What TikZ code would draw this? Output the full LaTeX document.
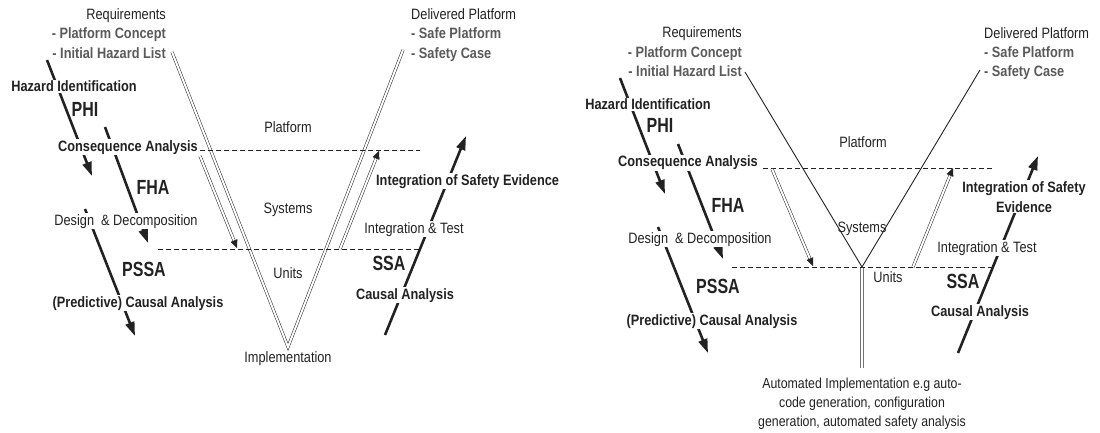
\documentclass[tikz,border=0pt]{standalone}
\usepackage{fontspec}
\setmainfont{Liberation Sans}[FakeStretch=0.85]
\newfontfamily\bigfont{Liberation Sans}[FakeStretch=0.78]
\usetikzlibrary{arrows.meta}
\definecolor{ink}{HTML}{222222}
\definecolor{subgray}{HTML}{5A5A5A}
\tikzset{
  lbl/.style={font=\fontsize{15}{17}\selectfont, text=ink, inner sep=1pt},
  blbl/.style={font=\fontsize{15}{17}\selectfont\bfseries, text=ink, inner sep=1pt},
  sublbl/.style={font=\fontsize{15}{17}\selectfont\bfseries, text=subgray, inner sep=1pt},
  biglbl/.style={font=\bigfont\fontsize{20.5}{22}\selectfont\bfseries, text=ink, inner sep=1pt},
  cut/.style={fill=white},
  vline/.style={draw=ink, line width=0.5pt, double=white, double distance=2pt, line join=miter},
  yline/.style={draw=ink, line width=0.9pt, line join=miter},
  stem/.style={draw=black!55, line width=0.6pt, double=white, double distance=2pt},
  dblarrow/.style={vline, -{Triangle[length=8pt,width=7pt]}},
  tarrow/.style={draw=ink, line width=2.6pt, -{Triangle[length=14pt,width=9pt]}},
  dashline/.style={draw=ink, dash pattern=on 5pt off 3pt, line width=0.8pt}
}
\begin{document}
\begin{tikzpicture}[x=1pt,y=-1pt]
\useasboundingbox (0,0) rectangle (1100,433);

% ================= LEFT DIAGRAM =================
\coordinate (LVa) at (172,52);
\coordinate (LVb) at (288,347);
\coordinate (LVc) at (403,50);
\draw[vline] (LVa) -- (LVb) -- (LVc);

\coordinate (LD1a) at (200,150); \coordinate (LD1b) at (420,150);
\coordinate (LD2a) at (158,249); \coordinate (LD2b) at (420,249);
\draw[dashline] (LD1a) -- (LD1b);
\draw[dashline] (LD2a) -- (LD2b);

\coordinate (LDa) at (200,156); \coordinate (LDb) at (237,248);
\coordinate (LUa) at (340,249); \coordinate (LUb) at (379,151);
\draw[dblarrow] (LDa) -- (LDb);
\draw[dblarrow] (LUa) -- (LUb);

\coordinate (LA1a) at (47,60);  \coordinate (LA1b) at (92,176);
\coordinate (LA2a) at (105,127); \coordinate (LA2b) at (148,243);
\coordinate (LA3a) at (85,209); \coordinate (LA3b) at (135,336);
\coordinate (LRa) at (385,335); \coordinate (LRb) at (466,136);
\draw[tarrow] (LA1a) -- (LA1b);
\draw[tarrow] (LA2a) -- (LA2b);
\draw[tarrow] (LA3a) -- (LA3b);
\draw[tarrow] (LRa) -- (LRb);

\node[lbl, anchor=base east] (lreq) at (167,20) {Requirements};
\node[sublbl, anchor=base east] (lpc) at (167,39) {- Platform Concept};
\node[sublbl, anchor=base east] (lihl) at (167,59) {- Initial Hazard List};
\node[lbl, anchor=base west] (ldel) at (410,20) {Delivered Platform};
\node[sublbl, anchor=base west] (lsp) at (410,39) {- Safe Platform};
\node[sublbl, anchor=base west] (lsc) at (410,59) {- Safety Case};

\node[blbl, cut, anchor=base] (lhaz) at (74,92) {Hazard Identification};
\node[biglbl, anchor=base] (lphi) at (85,117) {PHI};
\node[blbl, cut, anchor=base] (lcon) at (128,151) {Consequence Analysis};
\node[biglbl, anchor=base] (lfha) at (153,194) {FHA};
\node[lbl, cut, anchor=base] (ldes) at (126,225) {Design\ \ \& Decomposition};
\node[biglbl, anchor=base] (lpssa) at (144,276) {PSSA};
\node[blbl, cut, anchor=base] (lpca) at (138,307) {(Predictive) Causal Analysis};

\node[lbl, anchor=base] (lplat) at (288,132) {Platform};
\node[lbl, anchor=base] (lsys) at (288,213) {Systems};
\node[lbl, anchor=base] (lunits) at (288,278) {Units};
\node[lbl, anchor=base] (limpl) at (288,362) {Implementation};

\node[blbl, cut, anchor=base west] (lise) at (375,185) {Integration of Safety Evidence};
\node[lbl, cut, anchor=base] (lit) at (414,233) {Integration \& Test};
\node[biglbl, anchor=base] (lssa) at (389,270) {SSA};
\node[blbl, cut, anchor=base] (lca) at (405,299) {Causal Analysis};

% ================= RIGHT DIAGRAM =================
\coordinate (RYa) at (745,72);
\coordinate (RYj) at (862,267);
\coordinate (RYc) at (980,70);
\coordinate (RYs) at (862,368);
\draw[yline] (RYa) -- (RYj) -- (RYc);
\draw[stem] (RYj) -- (RYs);

\coordinate (RD1a) at (763,168); \coordinate (RD1b) at (992,168);
\coordinate (RD2a) at (732,267); \coordinate (RD2b) at (993,267);
\draw[dashline] (RD1a) -- (RD1b);
\draw[dashline] (RD2a) -- (RD2b);

\coordinate (RDa) at (772,169); \coordinate (RDb) at (813,266);
\coordinate (RUa) at (913,267); \coordinate (RUb) at (953,168);
\draw[dblarrow] (RDa) -- (RDb);
\draw[dblarrow] (RUa) -- (RUb);

\coordinate (RA1a) at (620,78);  \coordinate (RA1b) at (665,194);
\coordinate (RA2a) at (678,144); \coordinate (RA2b) at (723,259);
\coordinate (RA3a) at (658,227); \coordinate (RA3b) at (708,353);
\coordinate (RRa) at (958,353);  \coordinate (RRb) at (1038,156);
\draw[tarrow] (RA1a) -- (RA1b);
\draw[tarrow] (RA2a) -- (RA2b);
\draw[tarrow] (RA3a) -- (RA3b);
\draw[tarrow] (RRa) -- (RRb);

\node[lbl, anchor=base east] (rreq) at (743,38) {Requirements};
\node[sublbl, anchor=base east] (rpc) at (743,58) {- Platform Concept};
\node[sublbl, anchor=base east] (rihl) at (743,77) {- Initial Hazard List};
\node[lbl, anchor=base west] (rdel) at (983,39) {Delivered Platform};
\node[sublbl, anchor=base west] (rsp) at (983,58) {- Safe Platform};
\node[sublbl, anchor=base west] (rsc) at (983,77) {- Safety Case};

\node[blbl, cut, anchor=base] (rhaz) at (648,110) {Hazard Identification};
\node[biglbl, anchor=base] (rphi) at (660,133) {PHI};
\node[blbl, cut, anchor=base] (rcon) at (688,167) {Consequence Analysis};
\node[biglbl, anchor=base] (rfha) at (728,212) {FHA};
\node[lbl, cut, anchor=base] (rdes) at (700,243) {Design\ \ \& Decomposition};
\node[biglbl, anchor=base] (rpssa) at (718,293) {PSSA};
\node[blbl, cut, anchor=base] (rpca) at (712,325) {(Predictive) Causal Analysis};

\node[lbl, anchor=base] (rplat) at (863,148) {Platform};
\node[lbl, anchor=base] (rsys) at (862,232) {Systems};
\node[lbl, anchor=base] (runits) at (888,282) {Units};

\node[blbl, cut, align=center, anchor=base, font=\fontsize{15}{20}\selectfont\bfseries] (rise) at (1024,212) {Integration of Safety\\Evidence};
\node[lbl, cut, anchor=base] (rit) at (987,252) {Integration \& Test};
\node[biglbl, anchor=base] (rssa) at (963,288) {SSA};
\node[blbl, cut, anchor=base] (rca) at (980,316) {Causal Analysis};

\node[lbl, align=center, anchor=north, font=\fontsize{14.5}{19}\selectfont] (rauto) at (862,377)
  {Automated Implementation e.g auto-\\code generation, configuration\\generation, automated safety analysis};
\end{tikzpicture}
\end{document}
